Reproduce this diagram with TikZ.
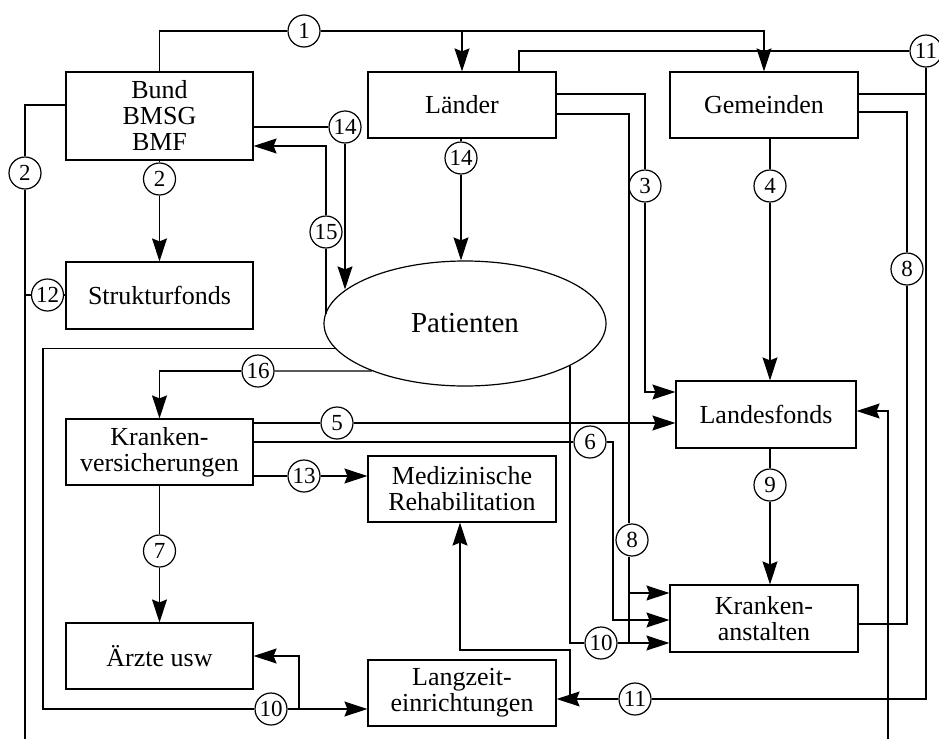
\documentclass[tikz,border=0pt]{standalone}
\usepackage{fontspec}
\setmainfont{Liberation Serif}
\usetikzlibrary{arrows.meta,shapes.geometric}
\begin{document}
\begin{tikzpicture}[x=1pt,y=-1pt,line width=1.2pt,
  box/.style={draw,rectangle,inner sep=0pt,minimum width=188pt,minimum height=66pt,align=center,font=\fontsize{26}{26}\selectfont},
  num/.style={draw,circle,fill=white,inner sep=0pt,minimum size=32pt,font=\fontsize{23}{23}\selectfont},
  arr/.style={-{Stealth[length=23pt,width=15pt,inset=3pt]}}]
\useasboundingbox (0,0) rectangle (939,739);
\clip (0,0) rectangle (939,739);
% boxes
\node[box,minimum width=187pt,minimum height=88pt] (bund) at (159.5,116) {Bund\\BMSG\\BMF};
\node[box,minimum width=187pt,minimum height=67pt] (struk) at (159.5,295.5) {Strukturfonds};
\node[box] (laender) at (462,105) {Länder};
\node[box] (gem) at (764,105) {Gemeinden};
\node[draw,ellipse,inner sep=0pt,minimum width=282pt,minimum height=125pt,font=\fontsize{29}{30}\selectfont] (pat) at (465,323.5) {Patienten};
\node[box,minimum width=180pt,minimum height=67pt] (lf) at (766,414.5) {Landesfonds};
\node[box,minimum height=67pt] (ka) at (764,618.5) {Kranken-\\anstalten};
\node[box,minimum width=187pt] (kv) at (159.5,452) {Kranken-\\versicherungen};
\node[box] (mr) at (462,489) {Medizinische\\Rehabilitation};
\node[box,minimum width=187pt] (ae) at (159.5,656) {Ärzte usw};
\node[box] (lz) at (462,693) {Langzeit-\\einrichtungen};
% number circles
\node[num] (n1) at (304,31) {1};
\node[num] (n2a) at (159.5,179) {2};
\node[num] (n2b) at (25,173) {2};
\node[num] (n3) at (645,186) {3};
\node[num] (n4) at (770,186) {4};
\node[num] (n5) at (337,423) {5};
\node[num] (n6) at (590,442) {6};
\node[num] (n7) at (159.5,551) {7};
\node[num] (n8a) at (632,540) {8};
\node[num] (n8b) at (907,269) {8};
\node[num] (n9) at (770,485) {9};
\node[num] (n10a) at (271,709) {10};
\node[num] (n10b) at (601,643) {10};
\node[num] (n11a) at (926,51) {11};
\node[num] (n11b) at (635,699) {11};
\node[num] (n12) at (47.5,295) {12};
\node[num] (n13) at (304,476) {13};
\node[num] (n14a) at (345,127) {14};
\node[num] (n14b) at (461,158) {14};
\node[num] (n15) at (326,232) {15};
\node[num] (n16) at (258,371) {16};
% helper coordinates
\coordinate (bl) at (25,739);
\coordinate (br) at (888,739);
\coordinate (c10l) at (43,709);
\coordinate (c6) at (613,620);
\coordinate (j8) at (629,593);
\coordinate (c8end) at (629,643);
\coordinate (j10) at (299,709);
\coordinate (j11) at (570,699);
\coordinate (c11m) at (460,650);
\coordinate (j12) at (25,295);
% 1
\draw (bund.north) |- (n1);
\draw[arr] (n1) -| (gem.north);
\draw[arr] (n1 -| laender.north) -- (laender.north);
% 2
\draw (bund.south) -- (n2a);
\draw[arr] (n2a) -- (struk.north);
\draw (bund.west |- 0,105) -| (n2b);
\draw (n2b) -- (bl);
% 12
\draw (j12) -- (n12);
\draw (n12) -- (struk.west |- n12);
% 3
\draw (laender.east |- 0,94) -| (n3);
\draw[arr] (n3) |- (lf.west |- 0,392);
% 4
\draw (gem.south -| n4) -- (n4);
\draw[arr] (n4) -- (lf.north -| n4);
% 5
\draw (kv.east |- n5) -- (n5);
\draw[arr] (n5) -- (lf.west |- n5);
% 6
\draw (kv.east |- n6) -- (n6);
\draw[arr] (n6) -| (c6) -- (ka.west |- c6);
% 7
\draw (kv.south) -- (n7);
\draw[arr] (n7) -- (ae.north);
% 8 (Laender)
\draw (laender.east |- 0,114) -| (n8a.north -| c8end);
\draw (n8a.south -| c8end) -- (c8end);
\draw[arr] (j8) -- (ka.west |- j8);
% 8 (Gemeinden)
\draw (gem.east |- 0,112) -| (n8b);
\draw (n8b) |- (ka.east |- 0,624);
% 9
\draw (lf.south -| n9) -- (n9);
\draw[arr] (n9) -- (ka.north -| n9);
% 10 left
\draw (pat.191) -| (c10l) -- (n10a);
\draw[arr] (n10a) -- (lz.west |- n10a);
\draw[arr] (j10) |- (ae.east |- 0,656);
% 10 right
\draw (pat.338) |- (n10b);
\draw[arr] (n10b) -- (ka.west |- n10b);
% 11
\draw (laender.north -| 519,0) |- (n11a);
\draw (n11a) |- (n11b);
\draw[arr] (n11b) -- (lz.east |- n11b);
\draw (gem.east |- 0,94) -- (n11a |- 0,94);
\draw[arr] (j11) |- (c11m) -- (mr.south -| c11m);
% 13
\draw (kv.east |- n13) -- (n13);
\draw[arr] (n13) -- (mr.west |- n13);
% 14
\draw (bund.east |- n14a) -- (n14a);
\draw[arr] (n14a) -- (n14a |- pat.164);
\draw (laender.south -| n14b) -- (n14b);
\draw[arr] (n14b) -- (n14b |- pat.north);
% 15
\draw (n15 |- pat.176) -- (n15);
\draw[arr] (n15) |- (bund.east |- 0,146);
% 16
\draw (pat.207) -- (n16);
\draw[arr] (n16) -| (kv.north);
% from below to Landesfonds
\draw[arr] (br) |- (lf.east |- 0,411);
\end{tikzpicture}
\end{document}
